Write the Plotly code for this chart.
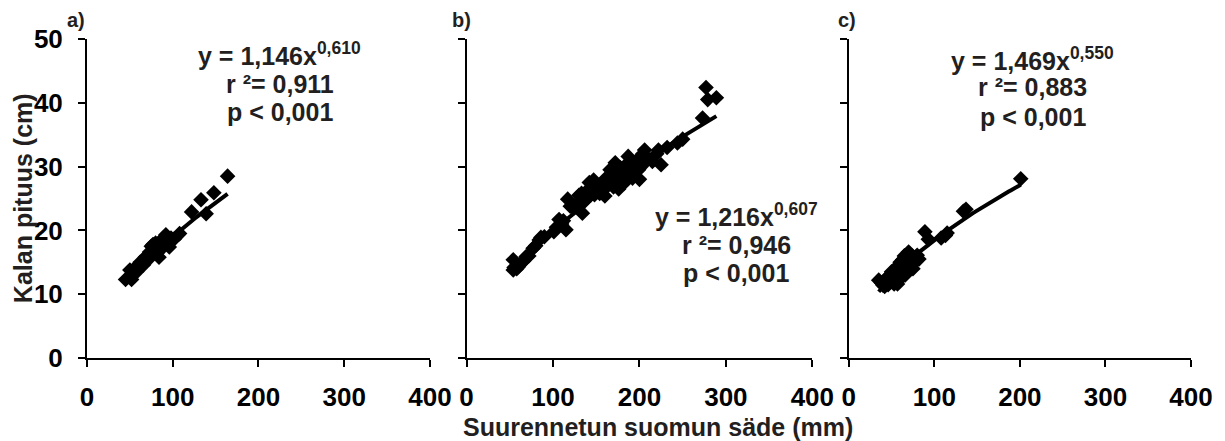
import numpy as np
import plotly.graph_objects as go

# ---------------- data ----------------
a_x = [45, 52, 50, 55, 58, 60, 62, 65, 66, 68, 70, 72, 73, 75, 75, 77, 78, 80, 80, 82, 83, 84, 85, 86,
       88, 90, 92, 94, 96, 98, 102, 108, 122, 133, 139, 148, 164]
a_y = [12.3, 12.3, 13.8, 14.0, 13.5, 14.5, 15.0, 15.2, 14.6, 15.8, 16.0, 15.5, 16.6, 17.5, 16.2, 17.8, 16.8,
       17.2, 18.0, 16.5, 17.6, 15.8, 18.2, 17.0, 18.6, 17.8, 19.3, 18.5, 17.4, 18.8, 18.7, 19.5, 22.9, 24.8,
       22.6, 25.9, 28.5]

b_x = [54, 55, 54, 58, 60, 63, 66, 69, 72, 77, 80, 84, 86, 90, 101, 104, 107, 110, 115, 112, 117, 120, 124,
       128, 130, 133, 134, 136, 138, 140, 142, 145, 147, 148, 150, 152, 154, 156, 158, 160, 160, 162, 165,
       166, 168, 170, 172, 173, 175, 176, 178, 180, 182, 184, 186, 187, 190, 192, 195, 197, 199, 200, 202,
       204, 206, 210, 215, 220, 222, 225, 232, 244, 250, 273, 277, 279, 289]
b_y = [13.8, 14.2, 15.4, 14.0, 14.3, 14.8, 15.2, 15.9, 16.0, 17.2, 17.6, 18.5, 18.9, 19.0, 19.8, 20.5, 21.7,
       21.0, 20.1, 21.5, 24.9, 23.8, 23.5, 24.2, 25.5, 25.8, 22.7, 24.5, 26.0, 25.2, 27.5, 26.8, 27.9, 25.6,
       26.2, 27.0, 25.8, 26.5, 27.3, 28.0, 25.4, 26.8, 27.6, 29.5, 28.3, 26.8, 30.6, 29.0, 28.0, 26.5, 29.8,
       28.8, 27.4, 30.2, 29.0, 31.6, 30.5, 28.2, 29.6, 31.0, 29.5, 28.0, 30.0, 32.0, 32.6, 31.2, 30.8, 32.0,
       32.6, 30.3, 33.0, 33.7, 34.3, 37.6, 42.4, 40.5, 40.8]

c_x = [35, 38, 40, 42, 44, 45, 46, 48, 48, 50, 50, 52, 53, 54, 55, 56, 57, 58, 59, 60, 60, 62, 63, 64, 65,
       66, 67, 68, 68, 70, 70, 72, 74, 75, 76, 78, 80, 82, 47, 52, 56, 61, 65, 89, 93, 108, 113, 115, 134,
       137, 201]
c_y = [12.2, 11.8, 11.4, 11.2, 12.0, 12.6, 11.5, 12.3, 13.0, 12.0, 13.5, 12.8, 11.6, 13.8, 12.5, 14.2, 11.6,
       13.2, 14.6, 12.4, 15.0, 13.6, 15.4, 14.0, 16.0, 13.0, 15.2, 16.2, 13.6, 14.8, 16.6, 15.6, 16.0, 14.0,
       15.0, 15.8, 16.1, 15.5, 12.8, 13.3, 13.0, 14.0, 14.8, 19.8, 18.6, 18.8, 19.2, 19.6, 23.0, 23.3, 28.1]

# power-fit coefficients y = k * x^e
fit_k = [1.146, 1.216, 1.469]
fit_e = [0.610, 0.607, 0.550]
fit_r2 = ["0,911", "0,946", "0,883"]
fit_k_txt = ["1,146", "1,216", "1,469"]
fit_e_txt = ["0,610", "0,607", "0,550"]
panel_labels = ["a)", "b)", "c)"]

x_ticks = [0, 100, 200, 300, 400]
y_ticks = [0, 10, 20, 30, 40, 50]

# ---------------- figure ----------------
FONT = "Arial, 'Liberation Sans', sans-serif"
TXT = "#231f20"
fig = go.Figure()

datasets = [(a_x, a_y), (b_x, b_y), (c_x, c_y)]
domains = [[0.0, 0.3106], [0.3438, 0.657], [0.690, 1.0]]

for i, (xs, ys) in enumerate(datasets):
    xa = "x" if i == 0 else f"x{i+1}"
    ya = "y" if i == 0 else f"y{i+1}"
    fig.add_trace(go.Scatter(x=xs, y=ys, mode="markers", xaxis=xa, yaxis=ya,
                             marker=dict(symbol="diamond", size=12, color="black",
                                         line=dict(width=0)),
                             showlegend=False, hoverinfo="skip"))
    lx = np.linspace(min(xs), max(xs), 60)
    ly = fit_k[i] * lx ** fit_e[i]
    fig.add_trace(go.Scatter(x=lx, y=ly, mode="lines", xaxis=xa, yaxis=ya,
                             line=dict(color="black", width=4),
                             showlegend=False, hoverinfo="skip"))

axis_common = dict(showline=True, linewidth=2, linecolor="black", ticks="outside",
                   ticklen=7, tickwidth=2, tickcolor="black", showgrid=False, zeroline=False,
                   tickfont=dict(family=FONT, size=26, color="black", weight="bold"))

layout = dict(
    width=1225, height=441,
    margin=dict(l=87, r=24, t=39, b=83),
    plot_bgcolor="white", paper_bgcolor="white",
    font=dict(family=FONT, color=TXT),
)
for i in range(3):
    xk = "xaxis" if i == 0 else f"xaxis{i+1}"
    yk = "yaxis" if i == 0 else f"yaxis{i+1}"
    layout[xk] = dict(axis_common, domain=domains[i], range=[0, 400], tickvals=x_ticks,
                      ticklabelstandoff=8, anchor="y" if i == 0 else f"y{i+1}")
    layout[yk] = dict(axis_common, domain=[0, 1], range=[0, 50], tickvals=y_ticks,
                      showticklabels=(i == 0), ticklabelstandoff=10,
                      anchor="x" if i == 0 else f"x{i+1}")
fig.update_layout(**layout)

# annotation positions (data coords) per panel
ann_x = [225, 312, 215]
ann_y = [[47.6, 42.9, 38.6], [22.4, 17.7, 13.3], [46.8, 42.4, 37.7]]
for i in range(3):
    xr = "x" if i == 0 else f"x{i+1}"
    yr = "y" if i == 0 else f"y{i+1}"
    texts = [f"<b>y = {fit_k_txt[i]}x<sup>{fit_e_txt[i]}</sup></b>",
             f"<b>r ²= {fit_r2[i]}</b>",
             "<b>p &lt; 0,001</b>"]
    for t, yy in zip(texts, ann_y[i]):
        fig.add_annotation(x=ann_x[i], y=yy, xref=xr, yref=yr, text=t, showarrow=False,
                           font=dict(family=FONT, size=25, color=TXT),
                           xanchor="center", yanchor="middle")

label_x = [-0.0099, 0.339, 0.688]
for i in range(3):
    fig.add_annotation(x=label_x[i], y=1.06, xref="paper", yref="paper",
                       text=f"<b>{panel_labels[i]}</b>", showarrow=False,
                       font=dict(family=FONT, size=20, color=TXT),
                       xanchor="center", yanchor="middle")

fig.add_annotation(x=0.517, y=-0.216, xref="paper", yref="paper",
                   text="<b>Suurennetun suomun säde (mm)</b>", showarrow=False,
                   font=dict(family=FONT, size=25, color=TXT),
                   xanchor="center", yanchor="middle")
fig.add_annotation(x=-0.0583, y=0.5, xref="paper", yref="paper",
                   text="<b>Kalan pituus (cm)</b>", showarrow=False, textangle=-90,
                   font=dict(family=FONT, size=25, color=TXT),
                   xanchor="center", yanchor="middle")

fig.write_html("out.html")
